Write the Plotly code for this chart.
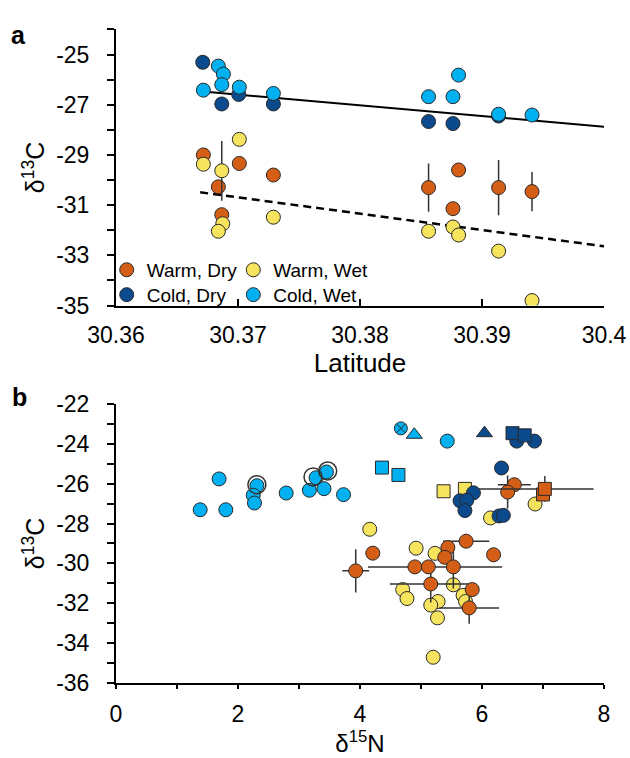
import plotly.graph_objects as go

# ---------------- Panel a data (Latitude vs d13C) ----------------
a_wd_lat = [30.36716, 30.37011, 30.37290, 30.36839, 30.36867, 30.38562, 30.38808, 30.38762, 30.39136, 30.39410]
a_wd_c = [-29.00, -29.34, -29.80, -30.27, -31.38, -30.30, -29.60, -31.14, -30.30, -30.46]
a_wd_err = [0, 0, 0, 0, 0, 0.96, 0, 0, 1.10, 0.78]

a_ww_lat = [30.37011, 30.36716, 30.36867, 30.36875, 30.36839, 30.37290, 30.38562, 30.38762, 30.38808, 30.39136, 30.39410]
a_ww_c = [-28.38, -29.37, -29.63, -31.74, -32.04, -31.48, -32.04, -31.87, -32.19, -32.83, -34.80]
a_ww_err = [0, 0, 1.19, 0, 0, 0, 0, 0, 0, 0, 0]

a_cd_lat = [30.36711, 30.36867, 30.37006, 30.37290, 30.38562, 30.38762, 30.39136]
a_cd_c = [-25.31, -26.97, -26.59, -26.97, -27.67, -27.75, -27.45]

a_cw_lat = [30.36839, 30.36880, 30.36867, 30.36716, 30.37011, 30.37290, 30.38808, 30.38562, 30.38762, 30.39136, 30.39410]
a_cw_c = [-25.46, -25.78, -26.20, -26.42, -26.30, -26.55, -25.82, -26.68, -26.68, -27.38, -27.41]

# regression lines: value at 30.36 and slope per degree
trend_x = [30.3669, 30.4]
cold_int, cold_slope = -26.17, -42.6
warm_int, warm_slope = -30.04, -65.0

lat_ticks = [30.36, 30.37, 30.38, 30.39, 30.40]
lat_labels = ["30.36", "30.37", "30.38", "30.39", "30.4"]
a_c_ticks = [-35, -33, -31, -29, -27, -25]
a_c_labels = ["-35", "-33", "-31", "-29", "-27", "-25"]
a_c_minor = [-35, -34, -33, -32, -31, -30, -29, -28, -27, -26, -25, -24]

# ---------------- Panel b data (d15N vs d13C) ----------------
# Warm, Dry circles
b_wd_n = [5.74, 6.19, 5.44, 5.39, 4.90, 5.12, 5.53, 5.16, 5.84, 5.79, 4.21, 3.93, 6.53, 6.42]
b_wd_c = [-28.89, -29.57, -29.21, -29.70, -30.18, -30.18, -30.18, -31.04, -31.32, -32.24, -29.49, -30.38, -26.05, -26.42]
b_wd_xp = [0.38, 0, 0, 0, 0, 1.21, 0, 0.67, 0, 0.49, 0, 0.22, 0.27, 0]
b_wd_xm = [0.38, 0, 0, 0, 0, 0.99, 0, 0.67, 0, 0.49, 0, 0.22, 0.27, 0]
b_wd_ye = [0, 0, 0, 0, 0, 0, 1.09, 0.93, 0, 0.80, 0, 1.09, 0, 0.83]
# Warm, Dry squares
b_wds_n = [7.00, 7.03]
b_wds_c = [-26.54, -26.26]
b_wds_xp = [0, 0.80]
b_wds_xm = [0, 1.20]
b_wds_ye = [0, 0.65]
# Warm, Wet circles
b_ww_n = [4.16, 4.92, 5.23, 5.53, 4.70, 4.77, 5.28, 5.16, 5.69, 5.73, 5.27, 5.20, 6.14, 6.87]
b_ww_c = [-28.29, -29.24, -29.50, -31.08, -31.32, -31.77, -31.92, -32.10, -31.61, -31.92, -32.74, -34.72, -27.72, -27.02]
# Warm, Wet squares
b_wws_n = [5.37, 5.72]
b_wws_c = [-26.38, -26.26]
# Cold, Dry circles
b_cd_n = [6.57, 6.86, 6.32, 5.86, 5.64, 5.75, 5.72, 6.28, 6.35]
b_cd_c = [-23.86, -23.86, -25.21, -26.46, -26.86, -26.83, -27.35, -27.62, -27.59]
# Cold, Dry squares / triangle
b_cds_n = [6.50, 6.70]
b_cds_c = [-23.46, -23.57]
b_cdt_n = [6.04]
b_cdt_c = [-23.46]
# Cold, Wet circles
b_cw_n = [1.69, 1.38, 1.80, 2.31, 2.25, 2.27, 2.79, 3.17, 3.28, 3.45, 3.41, 3.73, 5.43]
b_cw_c = [-25.76, -27.31, -27.31, -26.10, -26.58, -26.97, -26.47, -26.33, -25.70, -25.41, -26.25, -26.55, -23.86]
# Cold, Wet squares / triangle / crossed circle
b_cws_n = [4.36, 4.63]
b_cws_c = [-25.19, -25.56]
b_cwt_n = [4.89]
b_cwt_c = [-23.54]
b_cwx_n = [4.67]
b_cwx_c = [-23.22]
# ringed samples
b_ring_n = [2.31, 3.23, 3.47]
b_ring_c = [-26.05, -25.66, -25.36]

n_ticks = [0, 2, 4, 6, 8]
n_minor = [0, 1, 2, 3, 4, 5, 6, 7, 8]
b_c_ticks = [-36, -34, -32, -30, -28, -26, -24, -22]
b_c_labels = ["-36", "-34", "-32", "-30", "-28", "-26", "-24", "-22"]
b_c_minor = list(range(-36, -21))

# ---------------- Styles ----------------
FONT = "Liberation Sans, Arial, sans-serif"
C_WD = "#D55E16"
C_WW = "#F6E35E"
C_CD = "#0B4A8C"
C_CW = "#00B0F0"
EDGE = dict(color="#2a2a2a", width=1)
ERR = "#333333"

fig = go.Figure()


def mk(color, size=14, symbol="circle"):
    return dict(color=color, size=size, symbol=symbol, line=EDGE)


# Panel a
fig.add_trace(go.Scatter(x=trend_x, y=[cold_int + cold_slope * (v - 30.36) for v in trend_x],
                         mode="lines", line=dict(color="black", width=2), showlegend=False,
                         xaxis="x", yaxis="y"))
fig.add_trace(go.Scatter(x=trend_x, y=[warm_int + warm_slope * (v - 30.36) for v in trend_x],
                         mode="lines", line=dict(color="black", width=2.5, dash="8px,5px"),
                         showlegend=False, xaxis="x", yaxis="y"))

fig.add_trace(go.Scatter(x=a_wd_lat, y=a_wd_c, mode="markers", name="Warm, Dry", marker=mk(C_WD),
                         error_y=dict(type="data", array=a_wd_err, color=ERR, thickness=1.5, width=0),
                         legend="legend", xaxis="x", yaxis="y"))
fig.add_trace(go.Scatter(x=a_ww_lat, y=a_ww_c, mode="markers", name="Warm, Wet", marker=mk(C_WW),
                         error_y=dict(type="data", array=a_ww_err, color=ERR, thickness=1.5, width=0),
                         legend="legend2", xaxis="x", yaxis="y"))
fig.add_trace(go.Scatter(x=a_cd_lat, y=a_cd_c, mode="markers", name="Cold, Dry", marker=mk(C_CD),
                         legend="legend3", xaxis="x", yaxis="y"))
fig.add_trace(go.Scatter(x=a_cw_lat, y=a_cw_c, mode="markers", name="Cold, Wet", marker=mk(C_CW),
                         legend="legend4", xaxis="x", yaxis="y"))


# Panel b
def bt(x, y, color, symbol="circle", size=14, ex=None, exm=None, ey=None):
    kw = {}
    if ex is not None:
        kw["error_x"] = dict(type="data", array=ex, arrayminus=exm, color=ERR, thickness=1.5, width=0)
    if ey is not None:
        kw["error_y"] = dict(type="data", array=ey, color=ERR, thickness=1.5, width=0)
    fig.add_trace(go.Scatter(x=x, y=y, mode="markers", marker=mk(color, size, symbol),
                             showlegend=False, xaxis="x2", yaxis="y2", **kw))


bt(b_cw_n, b_cw_c, C_CW)
bt(b_cws_n, b_cws_c, C_CW, "square", 13)
bt(b_cwt_n, b_cwt_c, C_CW, "triangle-up", 14)
bt(b_cwx_n, b_cwx_c, C_CW, "circle-x", 13)
fig.add_trace(go.Scatter(x=b_ring_n, y=b_ring_c, mode="markers", showlegend=False,
                         marker=dict(symbol="circle-open", size=18, color="#333333", line=dict(width=1.5)),
                         xaxis="x2", yaxis="y2"))
bt(b_ww_n, b_ww_c, C_WW)
bt(b_wws_n, b_wws_c, C_WW, "square", 13)
bt(b_wd_n, b_wd_c, C_WD, ex=b_wd_xp, exm=b_wd_xm, ey=b_wd_ye)
bt(b_wds_n, b_wds_c, C_WD, "square", 13, ex=b_wds_xp, exm=b_wds_xm, ey=b_wds_ye)
bt(b_cd_n, b_cd_c, C_CD)
bt(b_cds_n, b_cds_c, C_CD, "square", 13)
bt(b_cdt_n, b_cdt_c, C_CD, "triangle-up", 14)

axis_common = dict(showline=True, linecolor="black", linewidth=2, showgrid=False, zeroline=False,
                   tickcolor="black", tickwidth=2, tickfont=dict(size=23, family=FONT, color="black"))


def minor(vals, ln):
    return dict(tickvals=vals, ticks="outside", ticklen=ln, tickwidth=2, tickcolor="black")


def leg(x, y):
    return dict(orientation="v", x=x, y=y, xanchor="left", yanchor="middle",
                font=dict(size=19, family=FONT, color="black"), bgcolor="rgba(0,0,0,0)",
                itemwidth=30, borderwidth=0)


LX1 = -0.019
LX2 = 0.2404
LY1 = 0.649
LY2 = 0.615

fig.update_layout(
    width=630, height=758,
    margin=dict(l=116, r=26, t=0, b=0),
    paper_bgcolor="white", plot_bgcolor="white",
    font=dict(family=FONT, color="black"),
    xaxis=dict(domain=[0, 1], anchor="y", range=[30.36, 30.40], tickvals=lat_ticks, ticktext=lat_labels,
               ticks="inside", ticklen=7, ticklabelstandoff=8,
               title=dict(text="Latitude", font=dict(size=26, family=FONT), standoff=0), **axis_common),
    yaxis=dict(domain=[0.6003, 0.9776], anchor="x", range=[-35, -24], tickvals=a_c_ticks, ticktext=a_c_labels,
               ticks="outside", ticklen=7, ticklabelstandoff=13, minor=minor(a_c_minor, 7),
               title=dict(text="δ<sup>13</sup>C", font=dict(size=25, family=FONT), standoff=4), **axis_common),
    xaxis2=dict(domain=[0, 1], anchor="y2", range=[0, 8], tickvals=n_ticks,
                ticks="outside", ticklen=4, ticklabelstandoff=6, minor=minor(n_minor, 4),
                title=dict(text="δ<sup>15</sup>N", font=dict(size=24, family=FONT), standoff=8), **axis_common),
    yaxis2=dict(domain=[0.0851, 0.4657], anchor="x2", range=[-36, -22], tickvals=b_c_ticks, ticktext=b_c_labels,
                ticks="outside", ticklen=7, ticklabelstandoff=13, minor=minor(b_c_minor, 7),
                title=dict(text="δ<sup>13</sup>C", font=dict(size=25, family=FONT), standoff=4), **axis_common),
    legend=leg(LX1, LY1),
    legend2=leg(LX2, LY1),
    legend3=leg(LX1, LY2),
    legend4=leg(LX2, LY2),
    annotations=[
        dict(text="<b>a</b>", x=-0.2, y=0.9697, xref="paper", yref="paper", xanchor="center",
             yanchor="middle", showarrow=False, font=dict(size=25, family=FONT, color="black")),
        dict(text="<b>b</b>", x=-0.197, y=0.4749, xref="paper", yref="paper", xanchor="center",
             yanchor="middle", showarrow=False, font=dict(size=25, family=FONT, color="black")),
    ],
)

fig.write_html("out.html")
